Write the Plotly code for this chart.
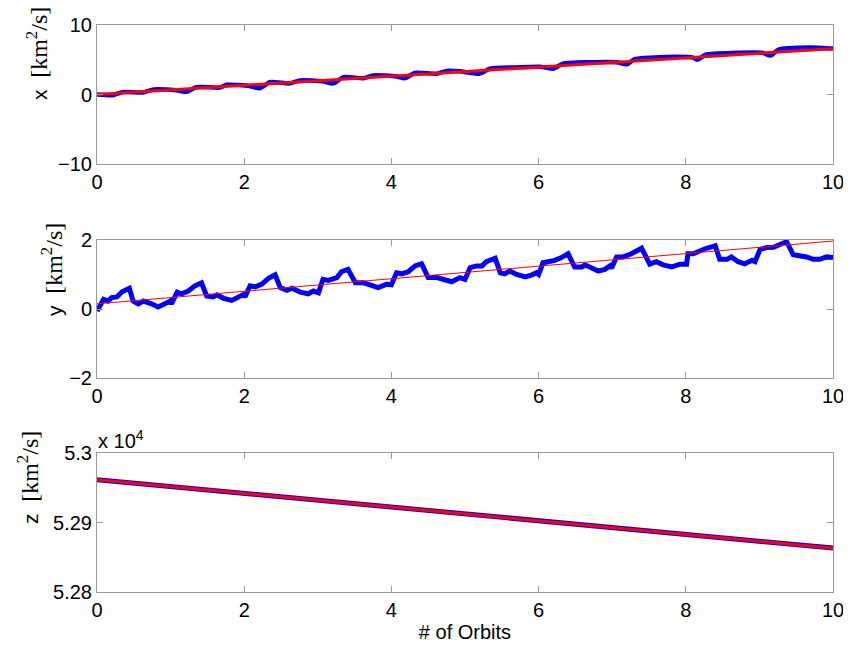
import plotly.graph_objects as go

# ---------------- data ----------------
# panel 1 : x  [km^2/s]
x_orbits = [0.00, 0.22, 0.34, 0.63, 0.77, 1.08, 1.22, 1.35, 1.67, 1.76, 2.08, 2.21, 2.35,
            2.62, 2.76, 3.07, 3.21, 3.35, 3.62, 3.75, 4.07, 4.18, 4.32, 4.62, 4.75, 4.93,
            5.20, 5.34, 5.70, 6.05, 6.20, 6.33, 6.70, 7.06, 7.20, 7.30, 7.74, 8.10, 8.16,
            8.27, 8.68, 9.04, 9.15, 9.26, 9.69, 10.0]
x_blue = [0.0, -0.1, 0.33, 0.3, 0.72, 0.6, 0.4, 1.06, 1.0, 1.4, 1.2, 0.9, 1.78,
          1.6, 2.03, 1.9, 1.6, 2.5, 2.35, 2.75, 2.6, 2.35, 3.1, 3.0, 3.4, 3.33,
          3.0, 3.72, 3.9, 3.97, 3.72, 4.44, 4.64, 4.64, 4.35, 5.07, 5.41, 5.3, 5.0,
          5.75, 6.0, 6.0, 5.6, 6.47, 6.77, 6.6]
x_fit_orbits = [0, 10]
x_fit = [0.0, 6.6]

# panel 2 : y  [km^2/s]
y_orbits = [0.00, 0.09, 0.15, 0.20, 0.27, 0.34, 0.44, 0.49, 0.56, 0.63, 0.74, 0.83, 0.92, 0.99,
            1.01, 1.09, 1.15, 1.24, 1.33, 1.42, 1.49, 1.58, 1.63, 1.72, 1.83, 1.92, 1.99,
            2.01, 2.08, 2.15, 2.24, 2.33, 2.42, 2.49, 2.58, 2.65, 2.76, 2.87, 2.94, 3.01,
            3.07, 3.14, 3.26, 3.32, 3.41, 3.51, 3.62, 3.71, 3.82, 3.94, 4.00,
            4.07, 4.14, 4.23, 4.32, 4.41, 4.50, 4.62, 4.71, 4.82, 4.93, 5.00,
            5.07, 5.16, 5.23, 5.29, 5.41, 5.48, 5.54, 5.61, 5.70, 5.82, 5.91, 5.97, 6.00,
            6.06, 6.13, 6.22, 6.31, 6.40, 6.49, 6.59, 6.63, 6.72, 6.81, 6.90, 6.97, 6.99,
            7.06, 7.15, 7.26, 7.40, 7.47, 7.51, 7.60, 7.69, 7.81, 7.92, 8.01,
            8.03, 8.10, 8.19, 8.28, 8.40, 8.46, 8.56, 8.62, 8.71, 8.80, 8.90, 8.94,
            9.01, 9.10, 9.19, 9.28, 9.37, 9.46, 9.55, 9.64, 9.73, 9.82, 9.91, 10.0]
y_blue = [-0.06, 0.28, 0.23, 0.33, 0.35, 0.50, 0.60, 0.23, 0.15, 0.23, 0.15, 0.06, 0.15, 0.23,
          0.15, 0.49, 0.44, 0.52, 0.67, 0.76, 0.38, 0.35, 0.41, 0.31, 0.25, 0.33, 0.42,
          0.35, 0.67, 0.64, 0.72, 0.89, 0.99, 0.62, 0.54, 0.60, 0.49, 0.44, 0.52, 0.47,
          0.86, 0.83, 0.91, 1.08, 1.15, 0.76, 0.76, 0.70, 0.62, 0.72, 0.70,
          1.05, 1.02, 1.08, 1.25, 1.31, 0.91, 0.91, 0.86, 0.79, 0.91, 0.86,
          1.20, 1.25, 1.25, 1.37, 1.47, 1.05, 1.02, 1.10, 1.00, 0.93, 0.99, 1.05, 1.00,
          1.34, 1.37, 1.41, 1.49, 1.60, 1.22, 1.22, 1.28, 1.18, 1.10, 1.15, 1.25, 1.18,
          1.51, 1.51, 1.60, 1.76, 1.44, 1.30, 1.37, 1.28, 1.22, 1.30, 1.30,
          1.60, 1.60, 1.70, 1.76, 1.83, 1.44, 1.44, 1.51, 1.37, 1.31, 1.41, 1.37,
          1.73, 1.78, 1.79, 1.89, 1.95, 1.57, 1.54, 1.51, 1.44, 1.44, 1.51, 1.49]
y_fit_orbits = [0, 10]
y_fit = [0.15, 1.97]

# panel 3 : z  [km^2/s]
z_orbits = [0, 1, 2, 3, 4, 5, 6, 7, 8, 9, 10]
z_blue = [52961.6, 52951.8, 52942.0, 52932.1, 52922.3, 52912.4, 52902.6, 52892.8,
          52882.9, 52873.1, 52863.2]
z_fit = [52961.5, 52951.7, 52941.8, 52932.0, 52922.1, 52912.3, 52902.5, 52892.6,
         52882.8, 52872.9, 52863.1]

x_ticks = [0, 2, 4, 6, 8, 10]
z_tickvals = [52800, 52900, 53000]
z_ticktext = ["5.28", "5.29", "5.3"]

# ---------------- figure ----------------
OFF = 8                      # page body margin
W, H = 851 - OFF, 651 - OFF
BLUE = "#0000ff"
RED = "#ff0000"
FONT = "Liberation Sans, Arial, sans-serif"
SERIF = "Liberation Serif, Times New Roman, serif"

fig = go.Figure()
fig.add_trace(go.Scatter(x=x_orbits, y=x_blue, mode="lines",
                         line=dict(color=BLUE, width=4.5, shape="spline", smoothing=0.6),
                         xaxis="x", yaxis="y", showlegend=False))
fig.add_trace(go.Scatter(x=x_fit_orbits, y=x_fit, mode="lines", line=dict(color=RED, width=3),
                         xaxis="x", yaxis="y", showlegend=False))
fig.add_trace(go.Scatter(x=y_orbits, y=y_blue, mode="lines", line=dict(color=BLUE, width=5),
                         xaxis="x2", yaxis="y2", showlegend=False))
fig.add_trace(go.Scatter(x=y_fit_orbits, y=y_fit, mode="lines", line=dict(color=RED, width=1),
                         xaxis="x2", yaxis="y2", showlegend=False))
fig.add_trace(go.Scatter(x=z_orbits, y=z_blue, mode="lines", line=dict(color=BLUE, width=5),
                         xaxis="x3", yaxis="y3", showlegend=False))
fig.add_trace(go.Scatter(x=z_orbits, y=z_fit, mode="lines", line=dict(color=RED, width=3),
                         xaxis="x3", yaxis="y3", showlegend=False))


def px(x):
    return (x - OFF) / W


def py(y):
    return 1 - (y - OFF) / H


xl, xr = px(97), px(833)


def ydom(top, bottom):
    return [py(bottom), py(top)]


axis_common = dict(showline=True, linecolor="#9a9a9a", linewidth=1, mirror="ticks",
                   ticks="inside", ticklen=6, tickcolor="#9a9a9a", showgrid=False,
                   zeroline=False, automargin=False,
                   tickfont=dict(family=FONT, size=20, color="black"))

layout = dict(
    width=W, height=H, paper_bgcolor="white", plot_bgcolor="white",
    margin=dict(l=0, r=0, t=0, b=0, autoexpand=False),
    font=dict(family=FONT, size=20, color="black"),
    xaxis=dict(domain=[xl, xr], anchor="y", range=[0, 10], tickvals=x_ticks, **axis_common),
    yaxis=dict(domain=ydom(25, 164), anchor="x", range=[-10, 10], tickvals=[-10, 0, 10],
               **axis_common),
    xaxis2=dict(domain=[xl, xr], anchor="y2", range=[0, 10], tickvals=x_ticks, **axis_common),
    yaxis2=dict(domain=ydom(240, 378), anchor="x2", range=[-2, 2], tickvals=[-2, 0, 2],
                **axis_common),
    xaxis3=dict(domain=[xl, xr], anchor="y3", range=[0, 10], tickvals=x_ticks,
                title=dict(text="# of Orbits", font=dict(family=FONT, size=20), standoff=4),
                **axis_common),
    yaxis3=dict(domain=ydom(453, 592), anchor="x3", range=[52800, 53000],
                tickvals=z_tickvals, ticktext=z_ticktext, **axis_common),
)
fig.update_layout(**layout)


def ylabel(letter, xc, yc):
    fig.add_annotation(
        text=letter + "&nbsp;&nbsp;<span style='font-family:" + SERIF
        + ";font-size:24px'>[km<sup>2</sup>/s]</span>",
        xref="paper", yref="paper", x=px(xc), y=py(yc), xanchor="center", yanchor="middle",
        textangle=-90, showarrow=False, font=dict(family=FONT, size=21, color="black"))


ylabel("x", 37, 54)
ylabel("y", 52, 270)
ylabel("z", 28, 478)

fig.add_annotation(text="x 10<sup>4</sup>", xref="paper", yref="paper", x=px(96), y=py(439),
                   xanchor="left", yanchor="middle", showarrow=False,
                   font=dict(family=FONT, size=20, color="black"))

fig.write_html("out.html")
